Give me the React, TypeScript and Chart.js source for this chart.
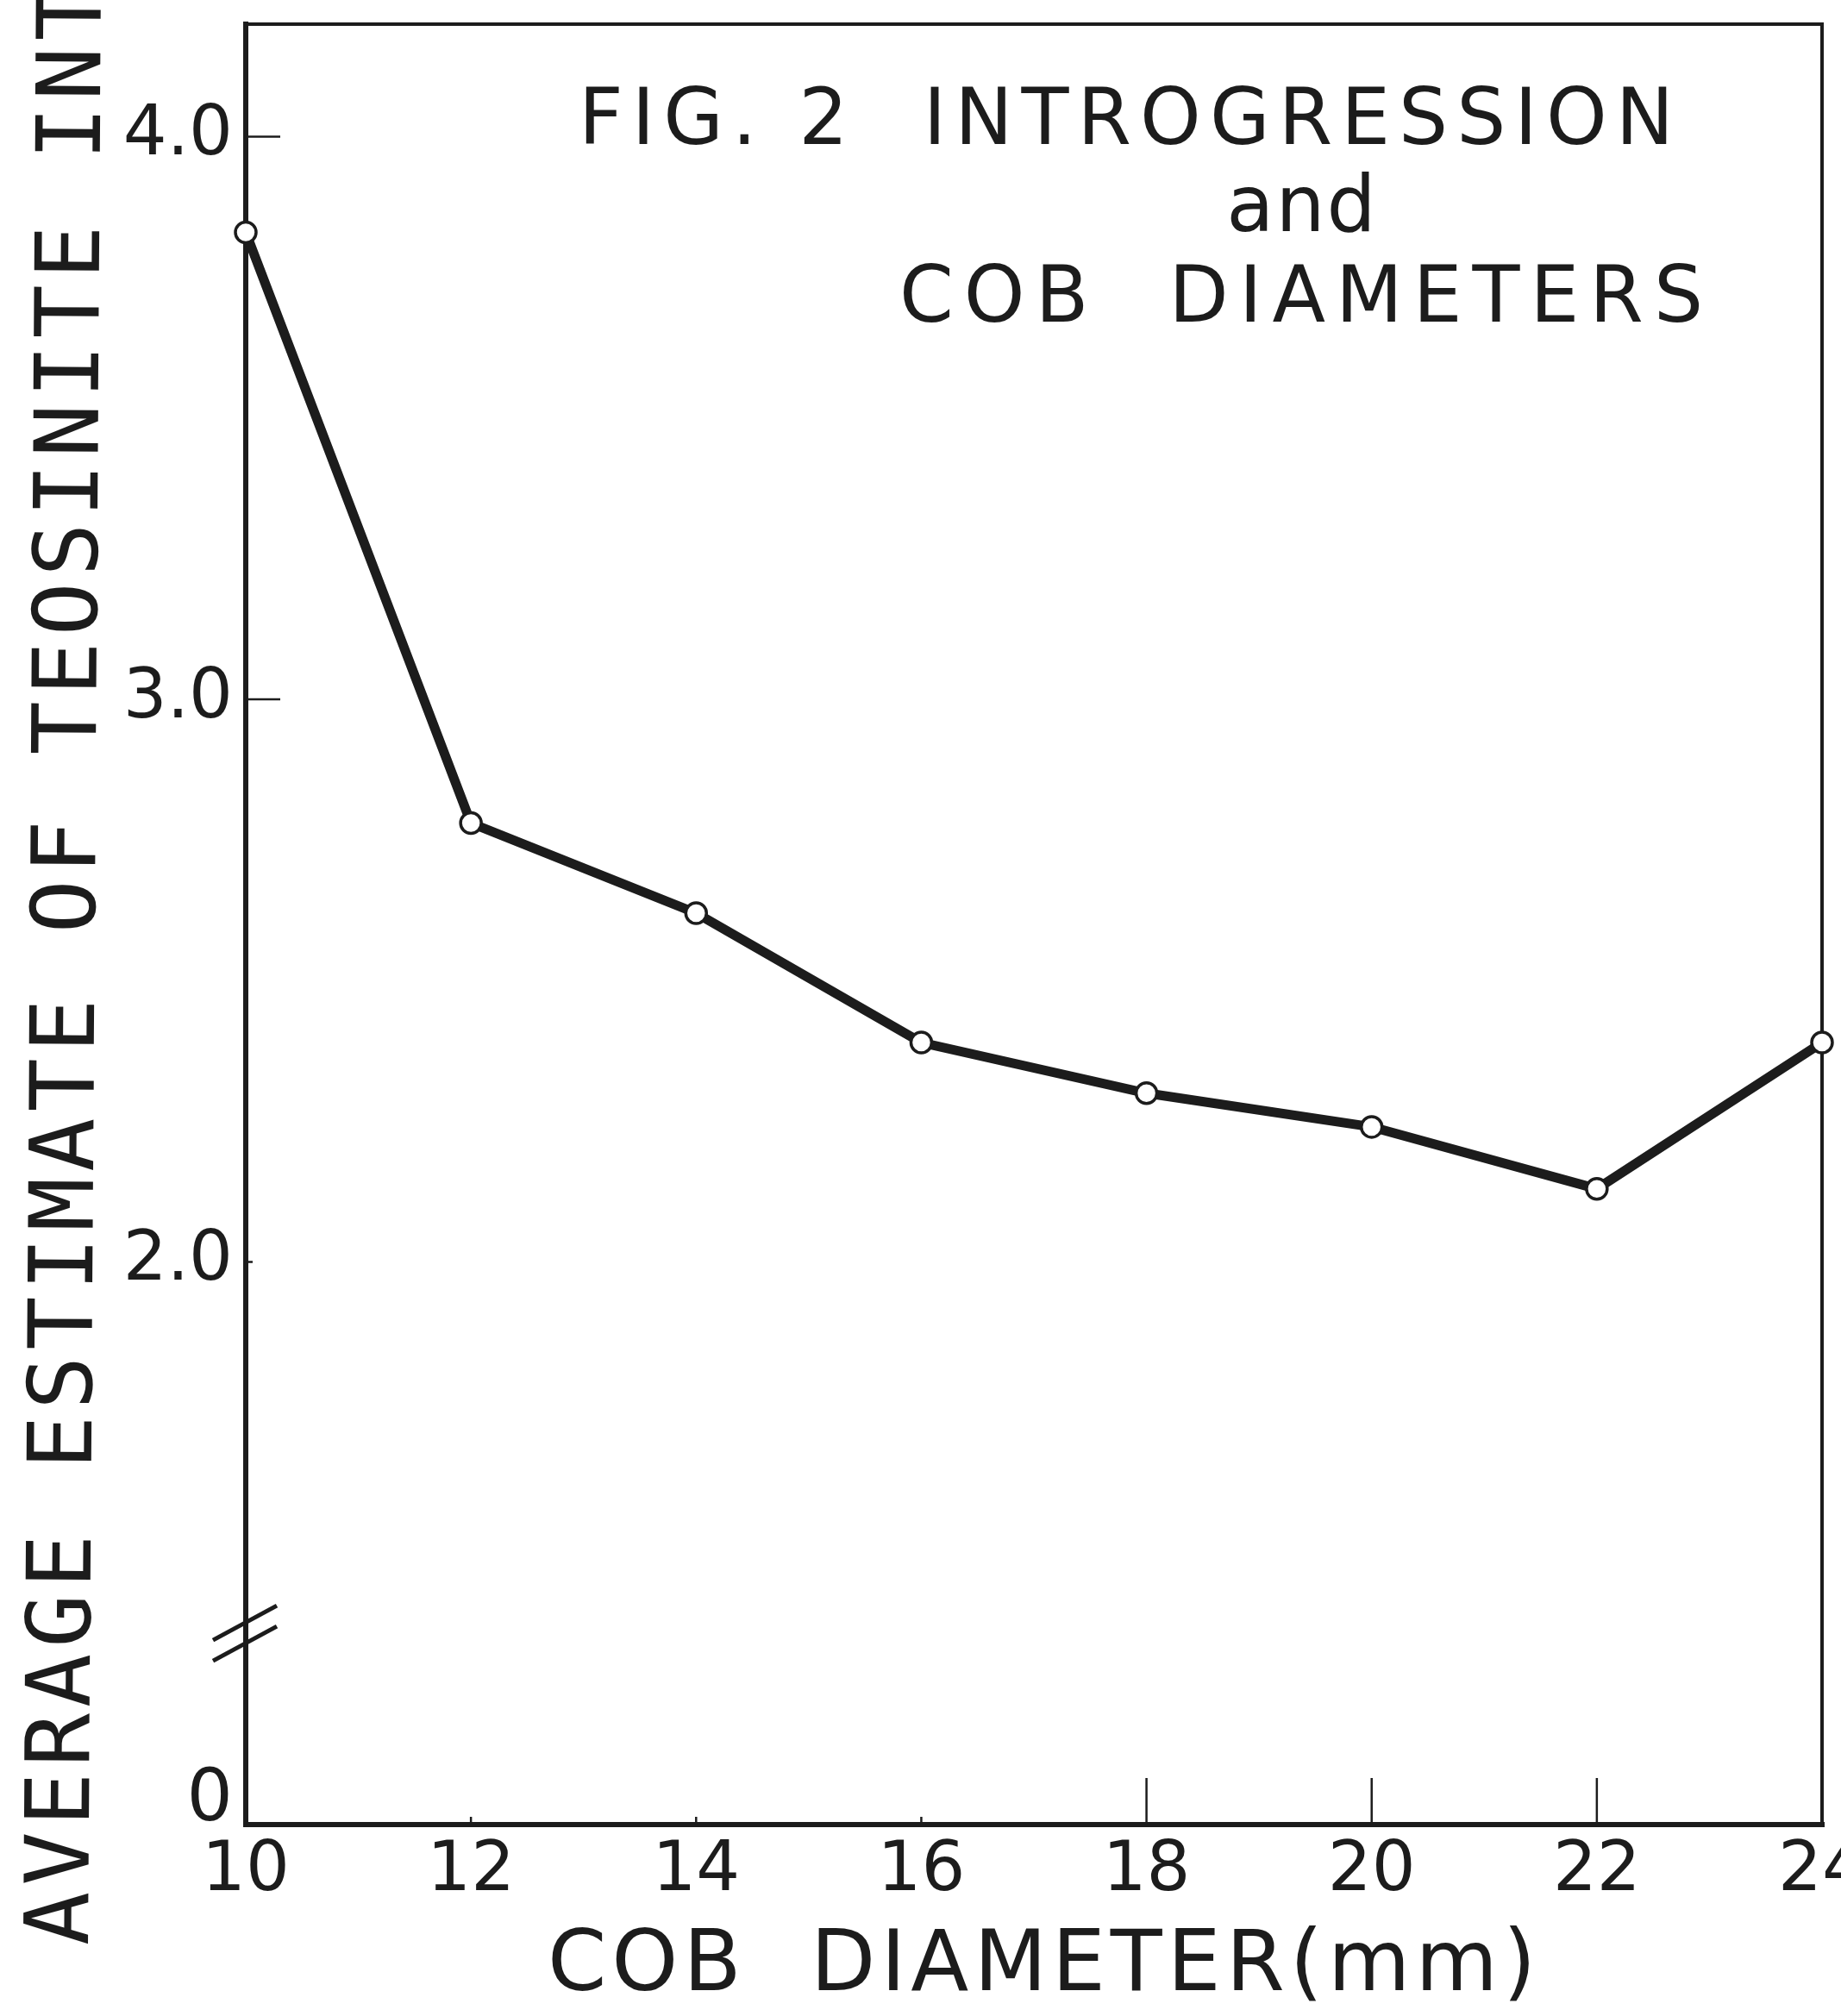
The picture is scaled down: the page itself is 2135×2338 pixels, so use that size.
import React, { useEffect, useRef } from "react";
import { Chart, registerables } from "chart.js";

Chart.register(...registerables);

// ---------- data ----------
const cobDiameters = [10, 12, 14, 16, 18, 20, 22, 24];
const introgression = [3.83, 2.78, 2.62, 2.39, 2.3, 2.24, 2.13, 2.39];

const xTickValues = [10, 12, 14, 16, 18, 20, 22, 24];
const xTickLabels = ["10", "12", "14", "16", "18", "20", "22", "24"];
const yTickValues = [1, 2, 3, 4];
const yTickLabels = ["0", "2.0", "3.0", "4.0"];

const titleLines = ["FIG. 2  INTROGRESSION", "and", "COB  DIAMETERS"];
const xAxisTitle = "COB  DIAMETER(mm)";
const yAxisTitle = "AVERAGE ESTIMATE OF TEOSINITE INTROGRESSION";

const Y_MIN = 1.0;
const Y_MAX = 4.2;
const X_MIN = 10;
const X_MAX = 24;
const AXIS_BREAK_AT = 1.34;

// ---------- style ----------
const W = 2135;
const H = 2338;
const INK = "#1c1c1c";
const FONT = "'DejaVu Sans', sans-serif";
const MONO = "'DejaVu Sans Mono', monospace";

const decorPlugin = {
  id: "decor",
  beforeDatasetsDraw(chart: any) {
    const { ctx, chartArea: a, scales } = chart;
    const x = scales.x;
    const y = scales.y;
    ctx.save();
    ctx.strokeStyle = INK;
    ctx.lineCap = "square";
    // top & right frame
    ctx.lineWidth = 4;
    ctx.beginPath();
    ctx.moveTo(a.left, a.top);
    ctx.lineTo(a.right, a.top);
    ctx.lineTo(a.right, a.bottom);
    ctx.stroke();
    // left & bottom axes
    ctx.lineWidth = 6;
    ctx.beginPath();
    ctx.moveTo(a.left, a.top);
    ctx.lineTo(a.left, a.bottom);
    ctx.lineTo(a.right, a.bottom);
    ctx.stroke();
    // inner x ticks
    ctx.lineWidth = 2.5;
    ctx.lineCap = "butt";
    xTickValues.forEach((v) => {
      if (v === X_MIN || v === X_MAX) return;
      const px = x.getPixelForValue(v);
      const len = v >= 18 ? 54 : 9;
      ctx.beginPath();
      ctx.moveTo(px, a.bottom);
      ctx.lineTo(px, a.bottom - len);
      ctx.stroke();
    });
    // inner y ticks
    yTickValues.forEach((v) => {
      if (v === Y_MIN) return;
      const py = y.getPixelForValue(v);
      const len = v >= 3 ? 40 : 8;
      ctx.beginPath();
      ctx.moveTo(a.left, py);
      ctx.lineTo(a.left + len, py);
      ctx.stroke();
    });
    // axis break marks
    const by = y.getPixelForValue(AXIS_BREAK_AT);
    ctx.lineWidth = 5;
    [-12, 12].forEach((d) => {
      ctx.beginPath();
      ctx.moveTo(a.left - 38, by + d + 20);
      ctx.lineTo(a.left + 36, by + d - 20);
      ctx.stroke();
    });
    ctx.restore();
  },
  afterDraw(chart: any) {
    const { ctx, chartArea: a } = chart;
    ctx.save();
    ctx.fillStyle = INK;
    ctx.textBaseline = "alphabetic";
    // figure title inside the plot
    ctx.font = `90px ${FONT}`;
    (ctx as any).letterSpacing = "10px";
    ctx.textAlign = "left";
    ctx.fillText(titleLines[0], a.left + 386, a.top + 139);
    ctx.textAlign = "center";
    (ctx as any).letterSpacing = "2px";
    ctx.fillText(titleLines[1], a.left + 1225, a.top + 240);
    (ctx as any).letterSpacing = "12px";
    ctx.fillText(titleLines[2], a.left + 1230, a.top + 345);
    // x axis title
    ctx.font = `98px ${FONT}`;
    (ctx as any).letterSpacing = "6px";
    ctx.fillText(xAxisTitle, (a.left + a.right) / 2 + 12, a.bottom + 192);
    // y axis title (rotated, hand-lettered slight tilt, runs off the top edge)
    ctx.font = `103px ${MONO}`;
    (ctx as any).letterSpacing = "7px";
    ctx.translate(102, a.bottom + 140);
    ctx.rotate(-Math.PI / 2 + 0.0066);
    ctx.textAlign = "left";
    ctx.fillText(yAxisTitle, 0, 0);
    ctx.restore();
  },
};

export default function App() {
  const canvasRef = useRef<HTMLCanvasElement | null>(null);

  useEffect(() => {
    const canvas = canvasRef.current;
    if (!canvas) return;
    const chart = new Chart(canvas, {
      type: "line",
      data: {
        datasets: [
          {
            data: cobDiameters.map((d, i) => ({ x: d, y: introgression[i] })),
            borderColor: INK,
            borderWidth: 11,
            pointRadius: 12,
            pointBackgroundColor: "#ffffff",
            pointBorderColor: INK,
            pointBorderWidth: 3.5,
            tension: 0,
            clip: false,
          } as any,
        ],
      },
      options: {
        responsive: false,
        animation: false,
        devicePixelRatio: 1,
        layout: { padding: { top: 28, right: 22, left: 0, bottom: 0 } },
        plugins: {
          legend: { display: false },
          tooltip: { enabled: false },
          title: { display: false },
        },
        scales: {
          x: {
            type: "linear",
            min: X_MIN,
            max: X_MAX,
            afterBuildTicks: (s: any) => {
              s.ticks = xTickValues.map((v) => ({ value: v }));
            },
            ticks: {
              autoSkip: false,
              maxRotation: 0,
              padding: 7,
              color: INK,
              font: { family: FONT, size: 80 },
              callback: (v: any) => xTickLabels[xTickValues.indexOf(Number(v))],
            },
            grid: { display: false, drawTicks: false },
            border: { display: false },
            afterFit: (s: any) => {
              s.height = H - 2116;
              s.paddingLeft = 0;
              s.paddingRight = 0;
            },
          },
          y: {
            type: "linear",
            min: Y_MIN,
            max: Y_MAX,
            afterBuildTicks: (s: any) => {
              s.ticks = yTickValues.map((v) => ({ value: v }));
            },
            ticks: {
              autoSkip: false,
              padding: 15,
              color: INK,
              crossAlign: "near",
              font: (c: any) =>
                c.tick && c.tick.value === Y_MIN
                  ? { family: FONT, size: 84, lineHeight: 0.64 }
                  : { family: FONT, size: 80 },
              callback: (v: any) => {
                const label = yTickLabels[yTickValues.indexOf(Number(v))];
                // the "0" sits a little above the axis corner in the original
                return Number(v) === Y_MIN ? [label, ""] : label;
              },
            },
            grid: { display: false, drawTicks: false },
            border: { display: false },
            afterFit: (s: any) => {
              s.width = 285;
              s.paddingTop = 0;
              s.paddingBottom = 0;
            },
          },
        },
      },
      plugins: [decorPlugin],
    } as any);
    return () => chart.destroy();
  }, []);

  return (
    <div style={{ position: "absolute", left: 0, top: 0, width: W, height: H, background: "#fff" }}>
      <canvas ref={canvasRef} width={W} height={H} style={{ display: "block", width: W, height: H }} />
    </div>
  );
}
